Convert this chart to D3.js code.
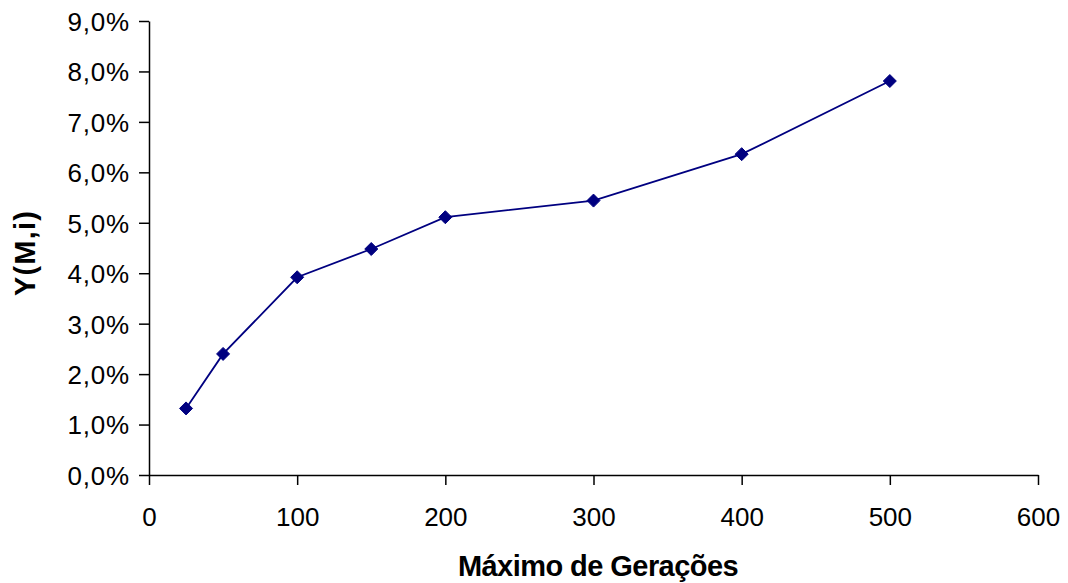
<!DOCTYPE html>
<html>
<head>
<meta charset="utf-8">
<script src="https://cdn.jsdelivr.net/npm/d3@7"></script>
<style>
  body { margin: 0; background: #fff; }
  svg text { font-family: "Liberation Sans", Arial, sans-serif; }
</style>
</head>
<body>
<svg id="chart" width="1068" height="583"></svg>
<script>
// Dados do gráfico
const geracoes = [25, 50, 100, 150, 200, 300, 400, 500];
const valores = [0.0132, 0.0240, 0.0392, 0.0448, 0.0511, 0.0544, 0.0636, 0.0781];
const xTicks = [0, 100, 200, 300, 400, 500, 600];
const yTicks = [0, 0.01, 0.02, 0.03, 0.04, 0.05, 0.06, 0.07, 0.08, 0.09];

const svg = d3.select("#chart");
const margin = {left: 149, right: 30, top: 21, bottom: 108};

const x = d3.scaleLinear().domain([0, 600]).range([margin.left, 1038]);
const y = d3.scaleLinear().domain([0, 0.09]).range([475, margin.top]);

const fmt = v => (v * 100).toFixed(1).replace(".", ",") + "%";

// Eixo Y
const yAxis = svg.append("g")
    .attr("transform", `translate(${margin.left},0)`)
    .call(d3.axisLeft(y).tickValues(yTicks).tickFormat(fmt).tickSize(10).tickSizeOuter(0));
yAxis.select(".domain").attr("stroke", "#000").attr("stroke-width", 1.5);
yAxis.selectAll(".tick line").attr("stroke", "#000").attr("stroke-width", 1.5);
yAxis.selectAll(".tick text")
    .attr("font-size", 26)
    .attr("fill", "#000")
    .attr("letter-spacing", 0.8)
    .attr("x", -19)
    .attr("dy", "0.36em");

// Eixo X
const xAxis = svg.append("g")
    .attr("transform", `translate(0,475)`)
    .call(d3.axisBottom(x).tickValues(xTicks).tickSize(10).tickSizeOuter(0));
xAxis.select(".domain").attr("stroke", "#000").attr("stroke-width", 1.5);
xAxis.selectAll(".tick line").attr("stroke", "#000").attr("stroke-width", 1.5);
xAxis.selectAll(".tick text")
    .attr("font-size", 26)
    .attr("fill", "#000")
    .attr("y", 33)
    .attr("dy", "0.71em");

// Linha da série
const line = d3.line()
    .x((d, i) => x(geracoes[i]))
    .y(d => y(d));

svg.append("path")
    .datum(valores)
    .attr("fill", "none")
    .attr("stroke", "#000080")
    .attr("stroke-width", 1.8)
    .attr("d", line);

// Marcadores em losango
svg.append("g").selectAll("path")
    .data(valores)
    .join("path")
    .attr("transform", (d, i) => `translate(${x(geracoes[i])},${y(d)})`)
    .attr("d", "M0,-6.5L6.5,0L0,6.5L-6.5,0Z")
    .attr("fill", "#000080")
    .attr("stroke", "#000080")
    .attr("stroke-width", 1);

// Rótulos dos eixos
svg.append("text")
    .attr("text-anchor", "middle")
    .attr("x", 598)
    .attr("y", 576)
    .attr("font-size", 29)
    .attr("font-weight", "bold")
    .attr("letter-spacing", -0.55)
    .text("Máximo de Gerações");

svg.append("text")
    .attr("text-anchor", "middle")
    .attr("transform", "rotate(-90)")
    .attr("x", -253)
    .attr("y", 35)
    .attr("font-size", 29)
    .attr("font-weight", "bold")
    .attr("letter-spacing", 1.2)
    .text("Y(M,i)");
</script>
</body>
</html>
